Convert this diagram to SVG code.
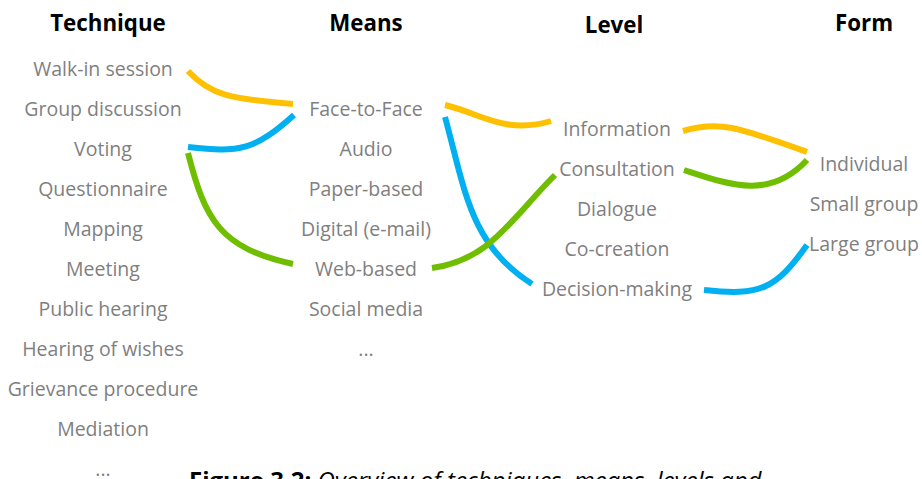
<svg xmlns="http://www.w3.org/2000/svg" width="922" height="479" viewBox="0 0 922 479">
<style>
.h{font-family:"Open Sans","Noto Sans","DejaVu Sans",sans-serif;font-weight:bold;font-size:22.3px;fill:#000;text-anchor:middle}
.t{font-family:"Open Sans","Noto Sans","DejaVu Sans",sans-serif;font-size:19.5px;fill:#7f7f7f;text-anchor:middle}
.c{fill:none;stroke-width:6}
.y{stroke:#FFC000}.b{stroke:#00B0F0}.g{stroke:#6FBE00}
.cap{font-family:"Open Sans","Noto Sans","DejaVu Sans",sans-serif;font-size:24px;fill:#000}
</style>
<rect width="922" height="479" fill="#fff"/>
<g id="headers">
<text class="h" x="108" y="31">Technique</text>
<text class="h" x="366" y="31">Means</text>
<text class="h" x="614" y="33">Level</text>
<text class="h" x="864" y="31">Form</text>
</g>
<g id="connectors">
<path class="c y" d="M188,71 C210,95 230,99 293,104"/>
<path class="c y" d="M445,105 C480,113 505,135 551,121"/>
<path class="c y" d="M683,131 C720,120 740,128 807,152"/>
<path class="c b" d="M188,147 C240,153 255,150 294,115"/>
<path class="c b" d="M445,117 C465,190 470,245 532,284"/>
<path class="c b" d="M704,290 C760,296 775,290 807,245"/>
<path class="c g" d="M188,153 C205,220 220,248 293,264"/>
<path class="c g" d="M432,268 C490,260 510,220 555,175"/>
<path class="c g" d="M684,170 C730,185 770,200 807,160"/>
</g>
<g id="technique">
<text class="t" x="103" y="76">Walk-in session</text>
<text class="t" x="103" y="116">Group discussion</text>
<text class="t" x="103" y="156">Voting</text>
<text class="t" x="103" y="196">Questionnaire</text>
<text class="t" x="103" y="236">Mapping</text>
<text class="t" x="103" y="276">Meeting</text>
<text class="t" x="103" y="316">Public hearing</text>
<text class="t" x="103" y="356">Hearing of wishes</text>
<text class="t" x="103" y="396">Grievance procedure</text>
<text class="t" x="103" y="436">Mediation</text>
<text class="t" x="103" y="476">...</text>
</g>
<g id="means">
<text class="t" x="366" y="116">Face-to-Face</text>
<text class="t" x="366" y="156">Audio</text>
<text class="t" x="366" y="196">Paper-based</text>
<text class="t" x="366" y="236">Digital (e-mail)</text>
<text class="t" x="366" y="276">Web-based</text>
<text class="t" x="366" y="316">Social media</text>
<text class="t" x="366" y="356">...</text>
</g>
<g id="level">
<text class="t" x="617" y="136">Information</text>
<text class="t" x="617" y="176">Consultation</text>
<text class="t" x="617" y="216">Dialogue</text>
<text class="t" x="617" y="256">Co-creation</text>
<text class="t" x="617" y="296">Decision-making</text>
</g>
<g id="form">
<text class="t" x="864" y="171">Individual</text>
<text class="t" x="864" y="211">Small group</text>
<text class="t" x="864" y="251">Large group</text>
</g>
<g id="caption">
<text class="cap" x="189" y="489"><tspan font-weight="bold">Figure 3.2:</tspan><tspan font-style="italic"> Overview of techniques, means, levels and</tspan></text>
</g>
</svg>
